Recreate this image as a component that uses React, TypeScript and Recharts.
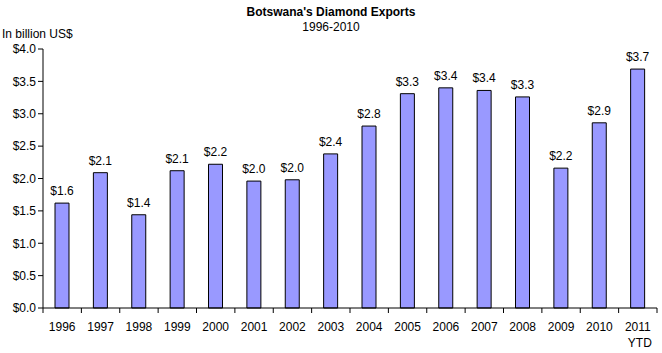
import { BarChart, Bar, XAxis, YAxis, LabelList } from "recharts"

const years = ["1996", "1997", "1998", "1999", "2000", "2001", "2002", "2003", "2004", "2005", "2006", "2007", "2008", "2009", "2010", "2011"]
const exports = [1.62, 2.09, 1.44, 2.12, 2.22, 1.96, 1.98, 2.38, 2.81, 3.31, 3.4, 3.36, 3.26, 2.16, 2.86, 3.69]
const yTicks = [0, 0.5, 1, 1.5, 2, 2.5, 3, 3.5, 4]

const data = years.map((year, i) => ({ year, value: exports[i] }))

if (typeof document !== "undefined") document.body.style.margin = "0"

const FONT = "'Liberation Sans', Arial, sans-serif"

const XTick = (props: any) => {
  const { x, y, payload, index } = props
  const band = 614 / years.length
  const last = index === years.length - 1
  return (
    <g>
      <line x1={x - band / 2} y1={y - 8} x2={x - band / 2} y2={y - 3} stroke="#000" />
      {last && <line x1={x + band / 2} y1={y - 8} x2={x + band / 2} y2={y - 3} stroke="#000" />}
      <text x={x} y={y + 15} textAnchor="middle" fontSize={12} fontFamily={FONT} fill="#000">
        {payload.value}
      </text>
      {last && (
        <text x={x + 2} y={y + 31} textAnchor="middle" fontSize={12} fontFamily={FONT} fill="#000">
          YTD
        </text>
      )}
    </g>
  )
}

export default function App() {
  return (
    <div style={{ position: "relative", width: 662, height: 353, background: "#fff", fontFamily: FONT }}>
      <div style={{ position: "absolute", top: 5, left: 0, width: 662, textAlign: "center", fontSize: 12, fontWeight: "bold" }}>
        Botswana's Diamond Exports
      </div>
      <div style={{ position: "absolute", top: 20, left: 0, width: 662, textAlign: "center", fontSize: 12 }}>1996-2010</div>
      <div style={{ position: "absolute", top: 27, left: 2, fontSize: 12 }}>In billion US$</div>
      <BarChart width={662} height={353} data={data} margin={{ top: 49, right: 5, bottom: 0, left: 0 }} barCategoryGap={0}>
        <XAxis
          dataKey="year"
          axisLine={{ stroke: "#000" }}
          tickLine={false}
          tick={<XTick />}
          interval={0}
          height={45}
        />
        <YAxis
          width={43}
          domain={[0, 4]}
          ticks={yTicks}
          axisLine={{ stroke: "#000" }}
          tickLine={{ stroke: "#000" }}
          tickSize={5}
          tick={{ fontSize: 12, fill: "#000", fontFamily: FONT }}
          tickFormatter={(v: number) => `$${v.toFixed(1)}`}
        />
        <Bar dataKey="value" fill="#9999FF" stroke="#000" strokeWidth={1} barSize={14} isAnimationActive={false}>
          <LabelList
            dataKey="value"
            position="top"
            offset={8}
            formatter={(v: any) => `$${Number(v).toFixed(1)}`}
            style={{ fontSize: 12, fill: "#000", fontFamily: FONT }}
          />
        </Bar>
      </BarChart>
    </div>
  )
}
